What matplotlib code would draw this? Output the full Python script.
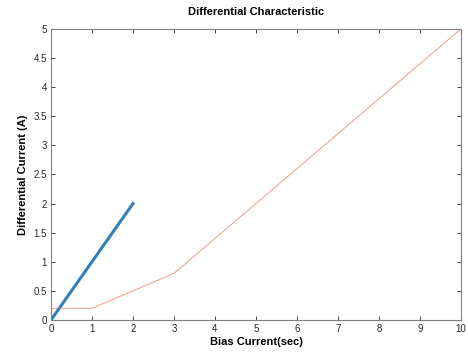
import matplotlib
matplotlib.use('Agg')
import matplotlib.pyplot as plt

plt.rcParams['font.family'] = ['Liberation Sans', 'DejaVu Sans']

# differential relay characteristic
bias_line = [0, 2]
diff_line = [0, 2]
bias_char = [0, 1, 3, 10]
diff_char = [0.2, 0.2, 0.8, 5]

xticks = list(range(0, 11))
yticks = [0, 0.5, 1, 1.5, 2, 2.5, 3, 3.5, 4, 4.5, 5]
ytick_labels = ['0', '0.5', '1', '1.5', '2', '2.5', '3', '3.5', '4', '4.5', '5']

fig = plt.figure(figsize=(4.68, 3.52), dpi=100)
ax = fig.add_axes([0.109, 0.091, 0.876, 0.827])

ax.plot(bias_line, diff_line, color='#2F7FBA', linewidth=2.2)
ax.plot(bias_char, diff_char, color='#E8826A', linewidth=0.7, alpha=0.8)

ax.set_xlim(0, 10)
ax.set_ylim(0, 5)
ax.set_xticks(xticks)
ax.set_yticks(yticks)
ax.set_yticklabels(ytick_labels)
ax.tick_params(direction='in', length=3, width=0.6, labelsize=7,
               top=True, right=True, colors='#262626', pad=3)
for s in ax.spines.values():
    s.set_color('#808080')
    s.set_linewidth(0.8)

ax.set_title('Differential Characteristic', fontsize=8, fontweight='bold', pad=10)
ax.set_xlabel('Bias Current(sec)', fontsize=8, fontweight='bold', labelpad=2)
ax.set_ylabel('Differential Current (A)', fontsize=8, fontweight='bold', labelpad=4)

fig.savefig('out.png', dpi=100)
